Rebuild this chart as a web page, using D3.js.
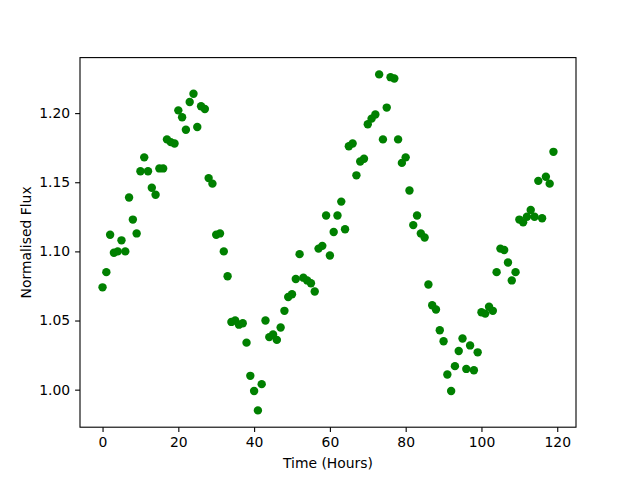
<!doctype html>
<html>
<head>
  <meta charset="utf-8">
  <script src="https://d3js.org/d3.v7.min.js"></script>
  <style>
    body { margin: 0; background: #fff; }
    svg { font-family: "DejaVu Sans", sans-serif; }
    .axis path, .axis line { stroke: #000; stroke-width: 1.1; }
    .axis text { font-size: 13.9px; fill: #000; font-family: "DejaVu Sans", sans-serif; }
    .label { font-size: 13.9px; fill: #000; }
  </style>
</head>
<body>
<script>
  // hourly samples, 0..119
  var flux = [
    1.074, 1.085, 1.112, 1.099, 1.100, 1.108, 1.100, 1.139, 1.123, 1.113,
    1.158, 1.168, 1.158, 1.146, 1.141, 1.160, 1.160, 1.181, 1.179, 1.178,
    1.202, 1.197, 1.188, 1.208, 1.214, 1.190, 1.205, 1.203, 1.153, 1.149,
    1.112, 1.113, 1.100, 1.082, 1.049, 1.050, 1.047, 1.048, 1.034, 1.010,
    0.999, 0.985, 1.004, 1.050, 1.038, 1.040, 1.036, 1.045, 1.057, 1.067,
    1.069, 1.080, 1.098, 1.081, 1.079, 1.077, 1.071, 1.102, 1.104, 1.126,
    1.097, 1.114, 1.126, 1.136, 1.116, 1.176, 1.178, 1.155, 1.165, 1.167,
    1.192, 1.196, 1.199, 1.228, 1.181, 1.204, 1.226, 1.225, 1.181, 1.164,
    1.168, 1.144, 1.119, 1.126, 1.113, 1.110, 1.076, 1.061, 1.058, 1.043,
    1.035, 1.011, 0.999, 1.017, 1.028, 1.037, 1.015, 1.032, 1.014, 1.027,
    1.056, 1.055, 1.060, 1.057, 1.085, 1.102, 1.101, 1.092, 1.079, 1.085,
    1.123, 1.121, 1.125, 1.130, 1.125, 1.151, 1.124, 1.154, 1.149, 1.172
  ];
  var hours = flux.map(function (d, i) { return i; });
  var xTicks = [0, 20, 40, 60, 80, 100, 120];
  var yTicks = [1.00, 1.05, 1.10, 1.15, 1.20];

  var width = 640, height = 480;
  var margin = { left: 80, right: 64, top: 57.6, bottom: 52.8 };

  var svg = d3.select("body").append("svg")
    .attr("width", width)
    .attr("height", height);

  // matplotlib-like 5% padding on data range
  function padded(ext) {
    var p = (ext[1] - ext[0]) * 0.05;
    return [ext[0] - p, ext[1] + p];
  }

  var x = d3.scaleLinear()
    .domain(padded(d3.extent(hours)))
    .range([margin.left, width - margin.right]);
  var y = d3.scaleLinear()
    .domain(padded(d3.extent(flux)))
    .range([height - margin.bottom, margin.top]);

  svg.append("g")
    .selectAll("circle")
    .data(flux)
    .enter().append("circle")
    .attr("cx", function (d, i) { return x(hours[i]); })
    .attr("cy", function (d) { return y(d); })
    .attr("r", 4.2)
    .attr("fill", "#008000");

  var xAxis = d3.axisBottom(x).tickValues(xTicks).tickSize(4.9).tickPadding(4.9).tickFormat(d3.format("d"));
  var yAxis = d3.axisLeft(y).tickValues(yTicks).tickSize(4.9).tickPadding(4.9).tickFormat(d3.format(".2f"));

  svg.append("g").attr("class", "axis")
    .attr("transform", "translate(0," + (height - margin.bottom) + ")")
    .call(xAxis)
    .call(function (g) { g.select(".domain").remove(); });
  svg.append("g").attr("class", "axis")
    .attr("transform", "translate(" + margin.left + ",0)")
    .call(yAxis)
    .call(function (g) { g.select(".domain").remove(); });

  svg.append("rect")
    .attr("x", margin.left)
    .attr("y", margin.top)
    .attr("width", width - margin.left - margin.right)
    .attr("height", height - margin.top - margin.bottom)
    .attr("fill", "none")
    .attr("stroke", "#000")
    .attr("stroke-width", 1.1);

  svg.append("text").attr("class", "label")
    .attr("x", (margin.left + width - margin.right) / 2)
    .attr("y", 468)
    .attr("text-anchor", "middle")
    .text("Time (Hours)");

  svg.append("text").attr("class", "label")
    .attr("transform", "translate(31," + (margin.top + (height - margin.top - margin.bottom) / 2) + ") rotate(-90)")
    .attr("text-anchor", "middle")
    .text("Normalised Flux");
</script>
</body>
</html>
